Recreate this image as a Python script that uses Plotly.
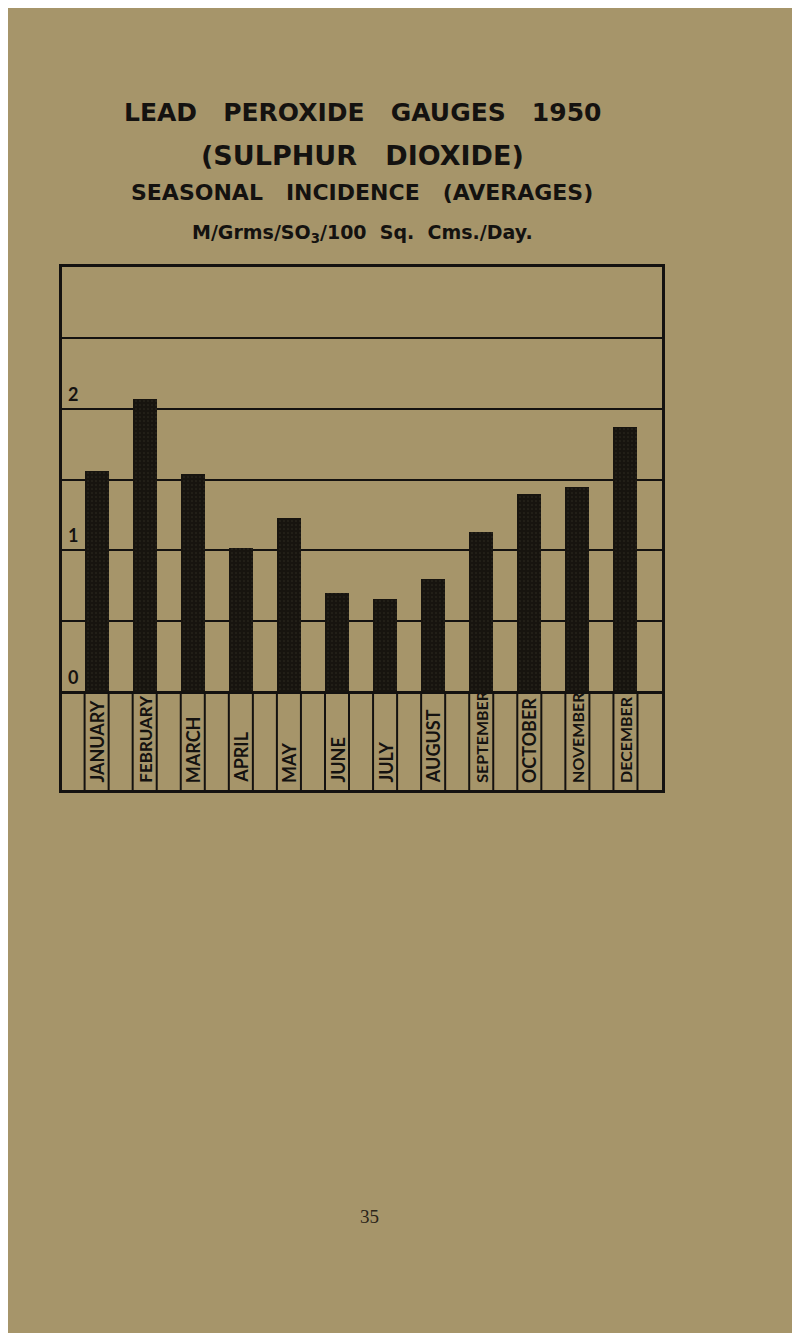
import plotly.graph_objects as go

months = ["JANUARY", "FEBRUARY", "MARCH", "APRIL", "MAY", "JUNE",
          "JULY", "AUGUST", "SEPTEMBER", "OCTOBER", "NOVEMBER", "DECEMBER"]
so2_avg = [1.56, 2.07, 1.54, 1.02, 1.23, 0.70, 0.66, 0.80, 1.13, 1.40, 1.45, 1.87]
grid_vals = [0, 0.5, 1, 1.5, 2, 2.5, 3]
ytick_vals = [0, 1, 2]
ytick_text = ["0", "1", "2"]
SP = "\u00a0\u00a0\u00a0"
title_lines = ["LEAD" + SP + "PEROXIDE" + SP + "GAUGES" + SP + "1950",
               "(SULPHUR" + SP + "DIOXIDE)",
               "SEASONAL" + SP + "INCIDENCE" + SP + "(AVERAGES)",
               "M/Grms/SO<sub>3</sub>/100\u00a0\u00a0Sq.\u00a0\u00a0Cms./Day."]
page_number = "35"

BG = "#a6956a"
INK = "#141210"
BAR_W = 0.5
Y_MIN, Y_MAX = -0.69, 3.0
LABEL_SIZE = {"FEBRUARY": 17, "SEPTEMBER": 16, "NOVEMBER": 16, "DECEMBER": 16}

x_idx = list(range(len(months)))

fig = go.Figure()
fig.add_trace(go.Bar(
    x=x_idx, y=so2_avg, width=BAR_W,
    marker=dict(color="#17140f", line=dict(width=0),
                pattern=dict(shape=".", fgcolor="#4a4433", bgcolor="#17140f",
                             size=4, solidity=0.12)),
    hoverinfo="skip", showlegend=False,
))

shapes = []
for i in x_idx:
    for edge in (i - BAR_W / 2, i + BAR_W / 2):
        shapes.append(dict(type="line", xref="x", yref="y",
                           x0=edge, x1=edge, y0=Y_MIN, y1=0,
                           line=dict(color=INK, width=2), layer="above"))

annotations = []
for i, m in zip(x_idx, months):
    annotations.append(dict(x=i, y=Y_MIN, xref="x", yref="y", text=m,
                            textangle=-90, showarrow=False,
                            xanchor="center", yanchor="bottom", yshift=5,
                            font=dict(family="Lato", size=LABEL_SIZE.get(m, 18),
                                      color=INK, weight="bold")))
for v, t in zip(ytick_vals, ytick_text):
    annotations.append(dict(x=0, y=v, xref="paper", yref="y", text=t,
                            showarrow=False, xanchor="left", yanchor="bottom",
                            xshift=4, yshift=2,
                            font=dict(family="Lato", size=18, color=INK,
                                      weight="bold")))

title_y = [1.2945, 1.2141, 1.1415, 1.0650]
title_sizes = [25, 27, 22, 19]
for t, yy, s in zip(title_lines, title_y, title_sizes):
    annotations.append(dict(x=0.5, y=yy, xref="paper", yref="paper", text=t,
                            showarrow=False, xanchor="center", yanchor="middle",
                            font=dict(family="DejaVu Sans", size=s, color=INK,
                                      weight="bold")))
annotations.append(dict(x=0.513, y=-0.839, xref="paper", yref="paper",
                        text=page_number, showarrow=False,
                        font=dict(family="Liberation Serif", size=19,
                                  color="#2a2418")))

# page body has an 8px default margin; compensate so the plot lands at 62..662 / 267..790
fig.update_layout(
    width=800, height=1333,
    margin=dict(l=54, r=146, t=259, b=551, pad=0),
    paper_bgcolor=BG, plot_bgcolor=BG,
    shapes=shapes, annotations=annotations,
    bargap=0,
    xaxis=dict(range=[-0.72, 11.76], showgrid=False, zeroline=False,
               showticklabels=False, ticks="", showline=True, mirror=True,
               linecolor=INK, linewidth=2.5, fixedrange=True),
    yaxis=dict(range=[Y_MIN, Y_MAX], tickvals=grid_vals, showticklabels=False,
               ticks="", showgrid=True, gridcolor=INK, gridwidth=2,
               zeroline=True, zerolinecolor=INK, zerolinewidth=2.5,
               showline=True, mirror=True, linecolor=INK, linewidth=2.5,
               fixedrange=True),
)

fig.write_html("out.html")
